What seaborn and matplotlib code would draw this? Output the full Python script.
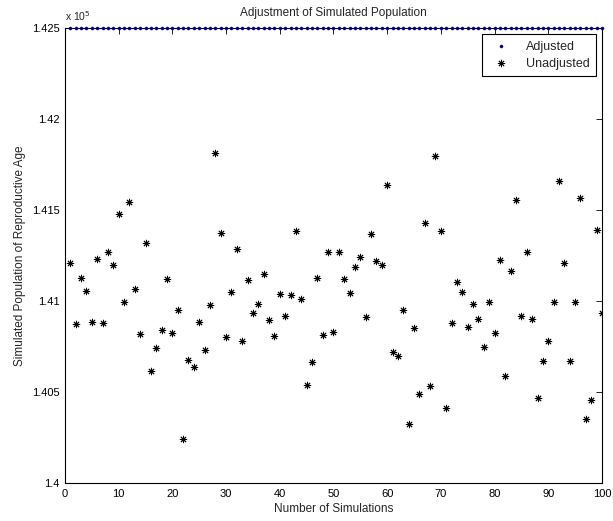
import numpy as np
import pandas as pd
import matplotlib
matplotlib.use("Agg")
import matplotlib.pyplot as plt
import seaborn as sns
from matplotlib.ticker import FuncFormatter

simulations = list(range(1, 101))
adjusted = [142500] * 100
unadjusted = [
    141210, 140872, 141126, 141055, 140886, 141231, 140877, 141271, 141196, 141476,
    140994, 141544, 141066, 140819, 141317, 140614, 140740, 140841, 141123, 140824,
    140952, 140242, 140676, 140636, 140886, 140732, 140978, 141811, 141375, 140804,
    141050, 141287, 140779, 141114, 140934, 140985, 141148, 140896, 140809, 141037,
    140918, 141031, 141386, 141009, 140540, 140665, 141128, 140815, 141268, 140830,
    141267, 141123, 141044, 141188, 141242, 140910, 141370, 141221, 141196, 141637,
    140721, 140700, 140952, 140324, 140850, 140487, 141430, 140531, 141795, 141386,
    140412, 140881, 141103, 141050, 140859, 140983, 140899, 140749, 140994, 140824,
    141225, 140590, 141163, 141555, 140918, 141267, 140899, 140469, 140670, 140779,
    140996, 141661, 141209, 140670, 140996, 141564, 140350, 140458, 141390, 140932,
]
y_ticks = [140000, 140500, 141000, 141500, 142000, 142500]
x_ticks = list(range(0, 101, 10))

sns.set_style("white")
plt.rcParams['font.family'] = ['Liberation Sans', 'DejaVu Sans']
plt.rcParams['font.size'] = 8

df = pd.DataFrame({"sim": simulations, "adj": adjusted, "unadj": unadjusted})

fig = plt.figure(figsize=(6.13, 5.21), dpi=100)
ax = fig.add_axes([0.106, 0.073, 0.876, 0.873])

sns.scatterplot(data=df, x="sim", y="adj", ax=ax, marker="o", s=5,
                color="#00008B", edgecolor="#00008B", linewidth=0.3,
                label="Adjusted", clip_on=False, zorder=3)
sns.scatterplot(data=df, x="sim", y="unadj", ax=ax, marker=(8, 2, 0), s=22,
                color="black", edgecolor="black", linewidth=0.7,
                label="Unadjusted", zorder=3)

ax.set_xlim(0, 100)
ax.set_ylim(140000, 142500)
ax.set_xticks(x_ticks)
ax.set_yticks(y_ticks)
ax.yaxis.set_major_formatter(FuncFormatter(lambda v, p: f"{v/1e5:g}"))
ax.tick_params(direction="in", length=4, top=True, right=True, width=0.6,
               labelsize=8, colors="black", pad=4)
for sp in ax.spines.values():
    sp.set_visible(True)
    sp.set_color("black")
    sp.set_linewidth(0.8)

ax.set_title("Adjustment of Simulated Population", fontsize=8.5, pad=9)
ax.set_xlabel("Number of Simulations", fontsize=8.5, labelpad=3)
ax.set_ylabel("Simulated Population of Reproductive Age", fontsize=8.5, labelpad=4)
ax.text(0.0, 1.012, r"x 10$^5$", transform=ax.transAxes, fontsize=7.5,
        ha="left", va="bottom")

leg = ax.legend(loc="upper right", fontsize=9, frameon=True, fancybox=False,
                framealpha=1, edgecolor="black", borderaxespad=0.5,
                handletextpad=1.0, borderpad=0.5, handlelength=2.0,
                labelspacing=0.4)
leg.get_frame().set_linewidth(0.8)

fig.savefig("out.png", dpi=100)
